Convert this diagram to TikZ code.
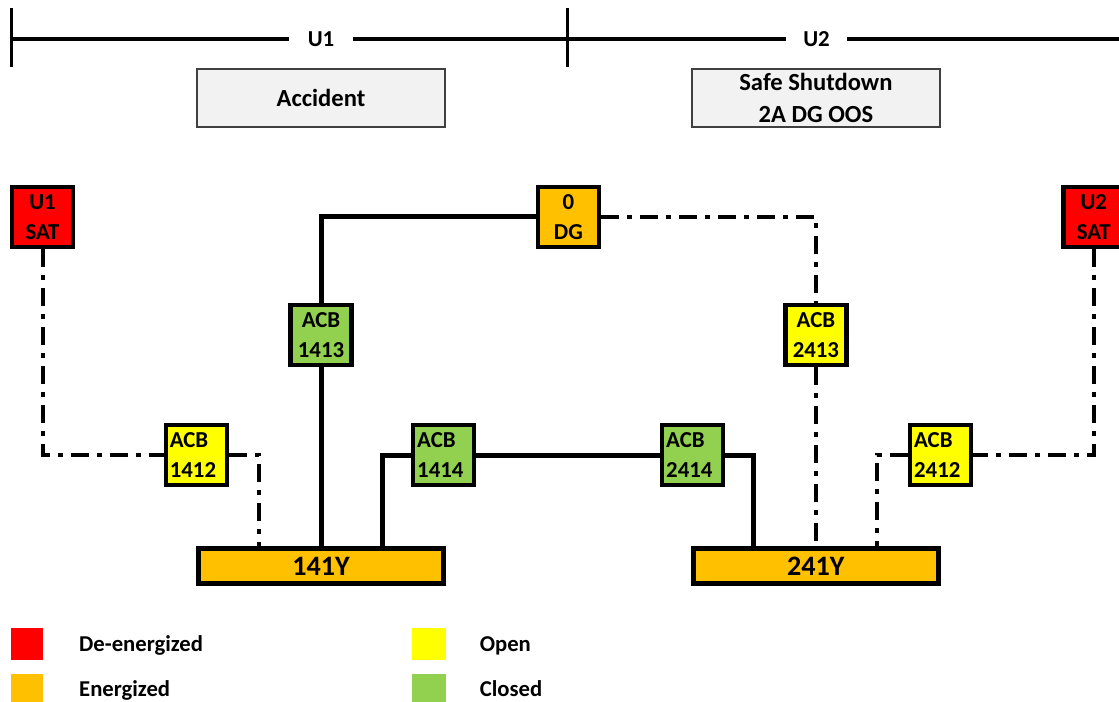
\documentclass[tikz,border=0pt]{standalone}
\usepackage{fontspec}
\setmainfont{Carlito}
\usetikzlibrary{positioning}

\begin{document}
\begin{tikzpicture}[
x=0.02cm, y=-0.02cm,
txt/.style={font=\bfseries\fontsize{13}{17}\selectfont},
unit/.style={txt, fill=white, minimum height=0.5cm, inner sep=0pt},
state/.style={draw=black!75, line width=0.035cm, fill=black!5, align=center, minimum width=4.96cm, minimum height=1.16cm, inner sep=0pt, font=\bfseries\fontsize{14}{18}\selectfont},
source/.style={txt, draw, line width=0.09cm, align=center, minimum width=1.22cm, minimum height=1.2cm, inner sep=0pt},
acb/.style={source},
acbleft/.style={source, align=left, text width=1.06cm, inner xsep=0.08cm},
bus/.style={draw, line width=0.09cm, fill=energized, minimum width=4.9cm, minimum height=0.7cm, inner sep=0pt, font=\bfseries\fontsize{16}{18}\selectfont},
key/.style={minimum width=0.64cm, minimum height=0.64cm, inner sep=0pt},
keytext/.style={font=\bfseries\fontsize{12.9}{17}\selectfont, inner sep=0pt, text height=0.39cm, text depth=0.1cm},
scale line/.style={line width=0.07cm},
closed line/.style={line width=0.1cm},
open line/.style={line width=0.08cm, dash pattern=on 0.36cm off 0.16cm on 0.1cm off 0.16cm}
]
\definecolor{deenergized}{HTML}{FF0000}
\definecolor{energized}{HTML}{FFC000}
\definecolor{open}{HTML}{FFFF00}
\definecolor{closed}{HTML}{92D050}

\useasboundingbox (0,0) rectangle (1119,702);

% ---------- BUSES AND BREAKERS ----------

\node[bus] (bus141) at (321,566) {141Y};

\node[bus, right=4.91cm of bus141] (bus241) {241Y};

\node[acb, fill=closed, above=3.58cm of bus141] (acb1413)
{ACB\\
1413};

\node[acb, fill=open, above=3.58cm of bus241] (acb2413)
{ACB\\
2413};

\node[acbleft, fill=open, above=1.18cm of bus141.north west] (acb1412)
{ACB\\
1412};

\node[acbleft, fill=closed, xshift=-0.04cm, above=1.18cm of bus141.north east] (acb1414)
{ACB\\
1414};

\node[acbleft, fill=closed, xshift=0.03cm, above=1.18cm of bus241.north west] (acb2414)
{ACB\\
2414};

\node[acbleft, fill=open, above=1.18cm of bus241.north east] (acb2412)
{ACB\\
2412};

% ---------- SOURCES ----------

\node[source, fill=deenergized] (u1sat) at (42.5,217)
{U1\\
SAT};

\node[source, fill=energized, right=9.21cm of u1sat] (dg)
{0\\
DG};

\node[source, fill=deenergized, right=9.2cm of dg] (u2sat)
{U2\\
SAT};

% ---------- UNIT HEADER ----------

\node[state, above=3.5cm of acb1413] (accident)
{Accident};

\node[state, above=3.5cm of acb2413] (shutdown)
{Safe Shutdown\\
2A DG OOS};

\coordinate (tick1) at (11.5,39);
\coordinate (tick2) at (567.5,39);
\coordinate (tick3) at (1119,39);

\node[unit, minimum width=1.26cm] (u1) at (321,39) {U1};
\node[unit, minimum width=1.2cm] (u2) at (816.5,39) {U2};

\draw[scale line] (tick1) -- (u1);
\draw[scale line] (u1) -- (tick2);
\draw[scale line] (tick2) -- (u2);
\draw[scale line] (u2) -- (tick3);
\draw[scale line] ([yshift=0.62cm]tick1) -- ([yshift=-0.56cm]tick1);
\draw[line width=0.05cm] ([yshift=0.62cm]tick2) -- ([yshift=-0.56cm]tick2);

% ---------- CONNECTIONS ----------

\draw[closed line] (dg) -| (acb1413);
\draw[closed line] (acb1413) -- (bus141);
\draw[closed line] (acb1414) -| ([xshift=1.24cm]bus141.north);
\draw[closed line] (acb1414) -- (acb2414);
\draw[closed line] (acb2414) -| ([xshift=-1.24cm]bus241.north);

\draw[open line] (u1sat) |- (acb1412);
\draw[open line] (acb1412) -| ([xshift=-1.24cm]bus141.north);
\draw[open line] (dg) -| (acb2413);
\draw[open line] (acb2413) -- (bus241);
\draw[open line] (acb2412) -| ([xshift=1.22cm]bus241.north);
\draw[open line] (u2sat) |- (acb2412);

% ---------- LEGEND ----------

\node[key, fill=deenergized] (keyred) at (27,644) {};
\node[key, fill=energized, below=0.26cm of keyred] (keyorange) {};
\node[key, fill=open, minimum width=0.68cm, right=7.36cm of keyred] (keyyellow) {};
\node[key, fill=closed, minimum width=0.68cm, below=0.26cm of keyyellow] (keygreen) {};

\node[keytext, right=0.71cm of keyred] (textred) {De-energized};
\node[keytext, right=0.71cm of keyorange] (textorange) {Energized};
\node[keytext, right=0.67cm of keyyellow] (textyellow) {Open};
\node[keytext, right=0.67cm of keygreen] (textgreen) {Closed};

\end{tikzpicture}
\end{document}
